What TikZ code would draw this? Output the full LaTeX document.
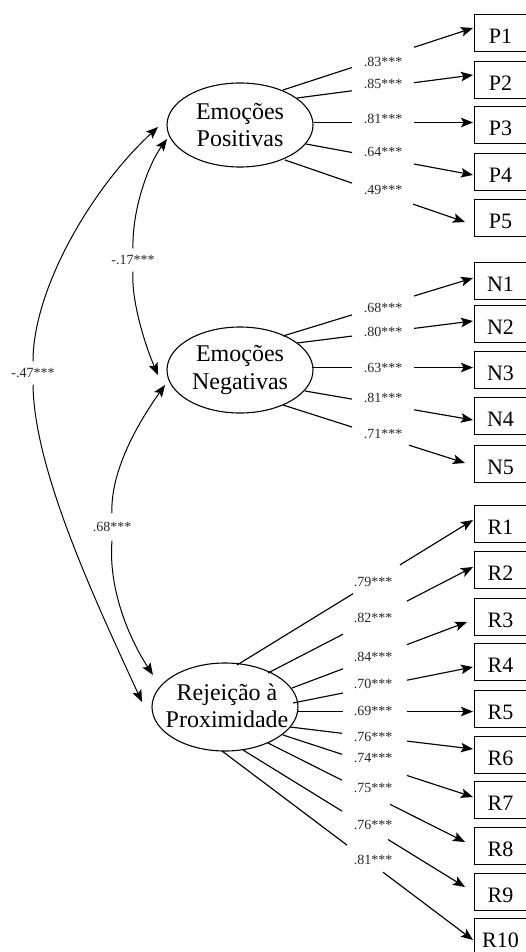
\documentclass[tikz,border=0pt]{standalone}
\usepackage{fontspec}
\setmainfont{Liberation Serif}
\usetikzlibrary{shapes.geometric,arrows.meta,calc}
\tikzset{
  lat/.style={ellipse, draw, line width=1.1pt, inner sep=0pt},
  lattext/.style={align=center, inner sep=0pt, font=\fontsize{24}{27.5}\selectfont},
  obs/.style={rectangle, draw, line width=1.3pt, minimum width=52pt, minimum height=37pt, inner sep=0pt, text height=21pt, text depth=0pt, font=\fontsize{22}{24}\selectfont},
  lbl/.style={font=\fontsize{14}{16}\selectfont, text=black!85, inner sep=0pt},
  cov/.style={lbl, outer ysep=7pt},
  arr/.style={-{Stealth[length=12pt,width=9.5pt,inset=2.5pt]}},
  ln/.style={line width=1.15pt},
  arcln/.style={line width=1pt},
}
\newcommand\mylink[7]{%
  \coordinate (#1s) at (#2);
  \coordinate (#1a) at (#3);
  \coordinate (#1b) at (#4);
  \coordinate (#1t) at (#5);
  \node[lbl] (#1l) at (#6) {#7};
  \draw[ln] (#1s) -- (#1a);
  \draw[ln,arr] (#1b) -- (#1t);
}
\begin{document}
\begin{tikzpicture}[x=1pt,y=-1pt]
\useasboundingbox (0,0) rectangle (526,952);
\fill[white] (0,0) rectangle (526,952);

% latent variables
\node[lat, minimum width=146pt, minimum height=84pt] (EP) at (240,125) {};
\node[lattext] (EPt) at (EP) {Emoções\\Positivas};
\node[lat, minimum width=146pt, minimum height=86pt] (EN) at (240,370) {};
\node[lattext] (ENt) at (EN) {Emoções\\Negativas};
\node[lat, minimum width=146pt, minimum height=88pt] (RP) at (225,707) {};
\node[lattext] (RPt) at (227,706) {Rejeição à\\Proximidade};

% observed indicators
\foreach \n/\y in {P1/33,P2/80,P3/125,P4/172,P5/218,
                   N1/281,N2/324,N3/370,N4/416,N5/464,
                   R1/524,R2/570,R3/617,R4/662,R5/709,
                   R6/755,R7/800,R8/846,R9/892,R10/937}
  \node[obs] (\n) at (500.5,\y) {\n};

% loadings
\mylink{eP1}{283,90}{352,67.5}{414,47.3}{473,28}{383,62}{.83***}
\mylink{eP2}{297,98}{352,90.8}{414,82.7}{473,75}{383,84}{.85***}
\mylink{eP3}{314,122.5}{352,122.5}{414,122.5}{473,122.5}{383,119}{.81***}
\mylink{eP4}{306,144}{352,152.5}{414,164}{473,175}{383,152}{.64***}
\mylink{eP5}{285,160}{352,183.1}{413,204.1}{465,222}{383,190}{.49***}
\mylink{eN1}{283,336}{352,314.9}{414,296}{473,278}{383,308}{.68***}
\mylink{eN2}{297,343}{352,336.1}{414,328.4}{473,321}{383,332}{.80***}
\mylink{eN3}{313,367.5}{352,367.5}{414,367.5}{473,367.5}{383,368}{.63***}
\mylink{eN4}{305,391}{352,399.1}{414,409.8}{473,420}{383,398}{.81***}
\mylink{eN5}{283,405}{352,427}{409,445.2}{465,463}{383,434}{.71***}
\mylink{eR1}{237,665}{353,593.7}{400,564.9}{473,520}{373,582}{.79***}
\mylink{eR2}{268,673}{343,634.2}{407,601.1}{473,567}{373,618}{.82***}
\mylink{eR3}{292,688}{343,668.8}{407,644.6}{467,622}{373,657}{.84***}
\mylink{eR4}{293,703}{343,693}{407,680.2}{473,667}{373,684}{.70***}
\mylink{eR5}{297,711.5}{343,711.5}{407,711.5}{473,711.5}{373,711}{.69***}
\mylink{eR6}{290,727}{342,733.3}{407,741.1}{473,749}{373,737}{.76***}
\mylink{eR7}{283,735}{342,754.3}{407,775.5}{473,797}{373,758}{.74***}
\mylink{eR8}{268,743}{342,780.2}{390,804.3}{465,842}{373,788}{.75***}
\mylink{eR9}{243,750}{342,811.1}{388,839.5}{465,887}{373,825}{.76***}
\mylink{eR10}{222,751}{347,845.1}{383,872.2}{473,940}{373,860}{.81***}

% covariances
\node[cov] (L17) at (133,260) {-.17***};
\node[cov] (L47) at (33,373) {-.47***};
\node[cov, outer ysep=9pt] (L68) at (112,527) {.68***};

\coordinate (c17a) at (167,139);
\coordinate (c17b) at (158,375);
\coordinate (c47a) at (158,127);
\coordinate (c47b) at (142,702);
\coordinate (c68a) at (165,385);
\coordinate (c68b) at (153,675);

\draw[arcln,arr] (L17.north) .. controls (132,210) and (148,165) .. (c17a);
\draw[arcln,arr] (L17.south) .. controls (131,300) and (145,345) .. (c17b);
\draw[arcln,arr] (L47.north) .. controls (33,290) and (90,190) .. (c47a);
\draw[arcln,arr] (L47.south) .. controls (34,470) and (95,600) .. (c47b);
\draw[arcln,arr] (L68.north) .. controls (110,470) and (140,420) .. (c68a);
\draw[arcln,arr] (L68.south) .. controls (108,590) and (130,640) .. (c68b);
\end{tikzpicture}
\end{document}
